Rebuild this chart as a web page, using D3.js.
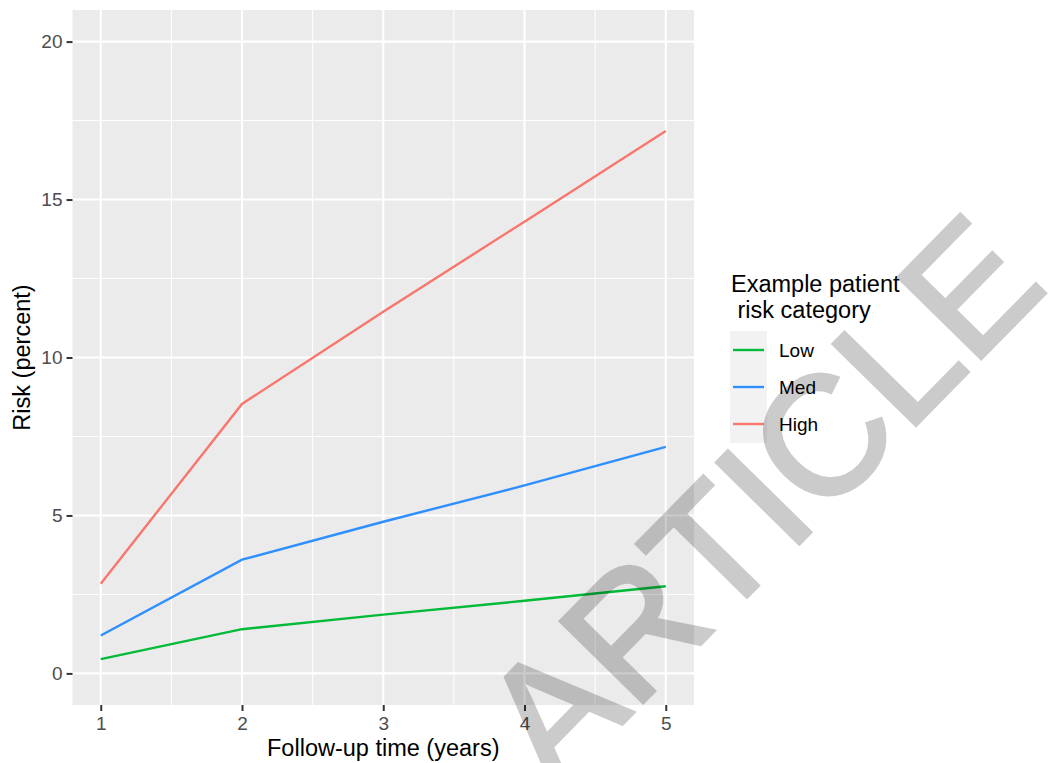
<!DOCTYPE html>
<html>
<head>
<meta charset="utf-8">
<script src="https://cdn.jsdelivr.net/npm/d3@7"></script>
<style>
  body { margin: 0; background: #fff; }
  svg { display: block; font-family: "Liberation Sans", Arial, sans-serif; }
</style>
</head>
<body>
<div id="chart"></div>
<script>
// Data
const years = [1, 2, 3, 4, 5];
const categories = ["Low", "Med", "High"];
const lowRisk = [0.45, 1.4, 1.86, 2.3, 2.76];
const medRisk = [1.2, 3.6, 4.8, 5.95, 7.17];
const highRisk = [2.84, 8.53, 11.45, 14.3, 17.17];
const yTicks = [0, 5, 10, 15, 20];
const yMinor = [2.5, 7.5, 12.5, 17.5];
const xMinor = [1.5, 2.5, 3.5, 4.5];

const seriesValues = { Low: lowRisk, Med: medRisk, High: highRisk };
const colors = { Low: "#00BA38", Med: "#2E8FFF", High: "#F8766D" };

const width = 1053, height = 763;
// Panel edges
const panel = { left: 72.5, right: 694, top: 10, bottom: 705 };

const svg = d3.select("#chart").append("svg")
  .attr("width", width)
  .attr("height", height);

// Scales (ggplot style 5% expansion)
const x = d3.scaleLinear().domain([0.8, 5.2]).range([panel.left, panel.right]);
const y = d3.scaleLinear().domain([-1, 21]).range([panel.bottom, panel.top]);

// Panel background
svg.append("rect")
  .attr("x", panel.left)
  .attr("y", panel.top)
  .attr("width", panel.right - panel.left)
  .attr("height", panel.bottom - panel.top)
  .attr("fill", "#EBEBEB");

// Minor grid
const grid = svg.append("g");
grid.selectAll(".ymin").data(yMinor).enter().append("line")
  .attr("x1", panel.left).attr("x2", panel.right)
  .attr("y1", d => y(d)).attr("y2", d => y(d))
  .attr("stroke", "#fff").attr("stroke-width", 1);
grid.selectAll(".xmin").data(xMinor).enter().append("line")
  .attr("y1", panel.top).attr("y2", panel.bottom)
  .attr("x1", d => x(d)).attr("x2", d => x(d))
  .attr("stroke", "#fff").attr("stroke-width", 1);

// Major grid
grid.selectAll(".ymaj").data(yTicks).enter().append("line")
  .attr("x1", panel.left).attr("x2", panel.right)
  .attr("y1", d => y(d)).attr("y2", d => y(d))
  .attr("stroke", "#fff").attr("stroke-width", 2.1);
grid.selectAll(".xmaj").data(years).enter().append("line")
  .attr("y1", panel.top).attr("y2", panel.bottom)
  .attr("x1", d => x(d)).attr("x2", d => x(d))
  .attr("stroke", "#fff").attr("stroke-width", 2.1);

// Series lines
const line = d3.line()
  .x((d, i) => x(years[i]))
  .y(d => y(d));

svg.append("g").selectAll("path")
  .data(categories)
  .enter()
  .append("path")
  .attr("d", c => line(seriesValues[c]))
  .attr("fill", "none")
  .attr("stroke", c => colors[c])
  .attr("stroke-width", 2.4);

// Axes
const xAxis = svg.append("g")
  .attr("transform", `translate(0,${panel.bottom})`)
  .call(d3.axisBottom(x).tickValues(years).tickSize(6).tickPadding(6).tickFormat(d3.format("d")));
const yAxis = svg.append("g")
  .attr("transform", `translate(${panel.left},0)`)
  .call(d3.axisLeft(y).tickValues(yTicks).tickSize(6).tickPadding(4).tickFormat(d3.format("d")));

[xAxis, yAxis].forEach(a => {
  a.select(".domain").remove();
  a.selectAll(".tick line").attr("stroke", "#333").attr("stroke-width", 2);
  a.selectAll(".tick text")
    .attr("fill", "#4D4D4D")
    .style("font-size", "19px")
    .style("font-family", "'Liberation Sans', Arial, sans-serif");
});

// Axis titles
svg.append("text")
  .attr("x", (panel.left + panel.right) / 2)
  .attr("y", 756)
  .attr("text-anchor", "middle")
  .style("font-size", "23.5px")
  .text("Follow-up time (years)");

svg.append("text")
  .attr("transform", `translate(29.5,${(panel.top + panel.bottom) / 2}) rotate(-90)`)
  .attr("text-anchor", "middle")
  .style("font-size", "23.5px")
  .text("Risk (percent)");

// Legend
const legend = svg.append("g");
legend.append("text")
  .attr("x", 731).attr("y", 292)
  .style("font-size", "23.5px")
  .text("Example patient");
legend.append("text")
  .attr("x", 731).attr("y", 318)
  .style("font-size", "23.5px")
  .style("white-space", "pre")
  .text(" risk category");

const keyH = 37;
legend.append("rect")
  .attr("x", 730).attr("y", 331)
  .attr("width", 37).attr("height", keyH * categories.length + 1)
  .attr("fill", "#F2F2F2");

const key = legend.selectAll(".key")
  .data(categories)
  .enter()
  .append("g")
  .attr("transform", (d, i) => `translate(0,${350 + i * keyH})`);

key.append("line")
  .attr("x1", 733).attr("x2", 764)
  .attr("stroke", d => colors[d])
  .attr("stroke-width", 2.4);

key.append("text")
  .attr("x", 779)
  .attr("dy", "0.36em")
  .style("font-size", "19px")
  .text(d => d);

// Watermark (runs off the bottom edge as in the original)
svg.append("g")
  .attr("opacity", 0.2)
  .append("text")
  .attr("transform", "translate(555,792) rotate(-45.5)")
  .style("font-size", "168px")
  .attr("fill", "#000")
  .attr("stroke", "#000")
  .attr("stroke-width", 4)
  .attr("stroke-linejoin", "miter")
  .text("ARTICLE");
</script>
</body>
</html>
